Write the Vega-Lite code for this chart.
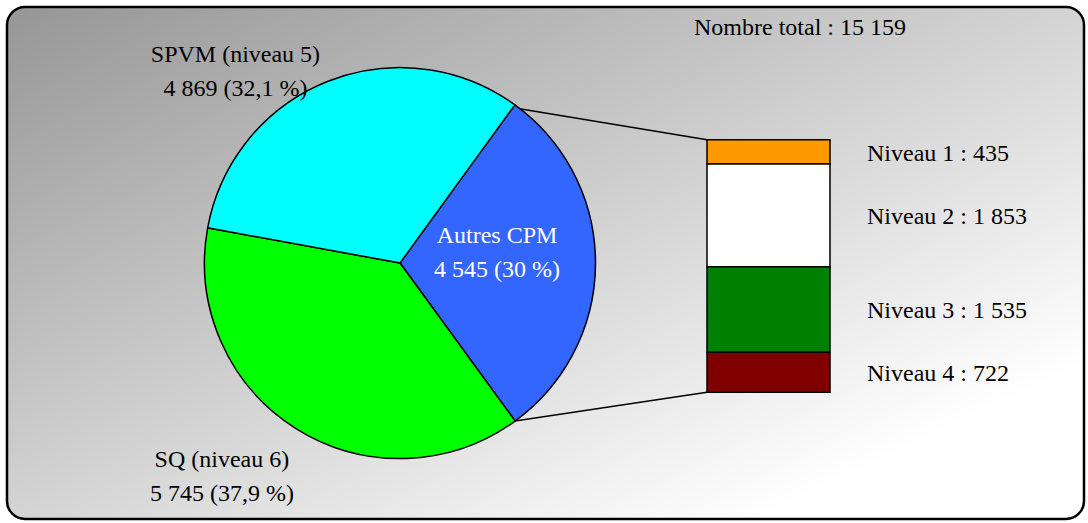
{
  "$schema": "https://vega.github.io/schema/vega-lite/v6.json",
  "width": 1088,
  "height": 523,
  "autosize": {"type": "fit", "contains": "padding"},
  "padding": {"left": 7, "top": 6, "right": 4, "bottom": 4},
  "background": "#ffffff",
  "datasets": {
    "cpm": [
      {"groupe": "Ensemble", "categorie": "Autres CPM", "effectif": 4545, "ordre": 1, "etiquette": "Autres CPM\n4 545 (30 %)"},
      {"groupe": "Ensemble", "categorie": "SQ (niveau 6)", "effectif": 5745, "ordre": 2, "etiquette": "SQ (niveau 6)\n5 745 (37,9 %)"},
      {"groupe": "Ensemble", "categorie": "SPVM (niveau 5)", "effectif": 4869, "ordre": 3, "etiquette": "SPVM (niveau 5)\n4 869 (32,1 %)"}
    ],
    "niveaux": [
      {"groupe": "Autres CPM", "niveau": "Niveau 1", "effectif": 435, "ordre": 1, "etiquette": "Niveau 1 : 435"},
      {"groupe": "Autres CPM", "niveau": "Niveau 2", "effectif": 1853, "ordre": 2, "etiquette": "Niveau 2 : 1 853"},
      {"groupe": "Autres CPM", "niveau": "Niveau 3", "effectif": 1535, "ordre": 3, "etiquette": "Niveau 3 : 1 535"},
      {"groupe": "Autres CPM", "niveau": "Niveau 4", "effectif": 722, "ordre": 4, "etiquette": "Niveau 4 : 722"}
    ],
    "total": [
      {"texte": "Nombre total : 15 159"}
    ]
  },
  "layer": [
    {
      "data": {"name": "niveaux"},
      "transform": [
        {"stack": "effectif", "groupby": ["groupe"], "sort": [{"field": "ordre", "order": "descending"}], "as": ["bas", "haut"]}
      ],
      "mark": {"type": "bar", "stroke": "#000000", "strokeWidth": 1.5},
      "encoding": {
        "x": {
          "field": "groupe",
          "type": "nominal",
          "axis": null,
          "scale": {"domain": ["Ensemble", "Autres CPM"], "paddingInner": 0.66621, "paddingOuter": 0.794435, "align": 0.56618}
        },
        "y": {
          "field": "bas",
          "type": "quantitative",
          "axis": null,
          "scale": {"domain": [-2281.5, 6934.4], "nice": false, "zero": false}
        },
        "y2": {"field": "haut"},
        "color": {
          "field": "niveau",
          "type": "nominal",
          "legend": null,
          "scale": {"domain": ["Niveau 1", "Niveau 2", "Niveau 3", "Niveau 4"], "range": ["#ff9900", "#ffffff", "#008000", "#800000"]}
        }
      }
    },
    {
      "data": {"name": "niveaux"},
      "transform": [
        {"stack": "effectif", "groupby": ["groupe"], "sort": [{"field": "ordre", "order": "descending"}], "as": ["bas", "haut"]},
        {"calculate": "(datum.bas + datum.haut) / 2", "as": "milieu"}
      ],
      "mark": {"type": "text", "align": "left", "baseline": "middle", "dx": 37, "dy": 2, "font": "Liberation Serif", "fontSize": 24, "color": "#000000"},
      "encoding": {
        "x": {"field": "groupe", "type": "nominal", "bandPosition": 1},
        "y": {"field": "milieu", "type": "quantitative"},
        "text": {"field": "etiquette"}
      }
    },
    {
      "data": {"name": "total"},
      "mark": {"type": "text", "align": "center", "baseline": "middle", "dx": 31.5, "font": "Liberation Serif", "fontSize": 24, "color": "#000000"},
      "encoding": {
        "x": {"datum": "Autres CPM", "type": "nominal", "bandPosition": 0.5},
        "y": {"datum": 6557, "type": "quantitative"},
        "text": {"field": "texte"}
      }
    },
    {
      "data": {"name": "total"},
      "mark": {"type": "rule", "color": "#000000", "strokeWidth": 1.5},
      "encoding": {
        "x": {"datum": "Autres CPM", "type": "nominal", "bandPosition": 0},
        "y": {"datum": 4545, "type": "quantitative"},
        "x2": {"value": 508},
        "y2": {"value": 101}
      }
    },
    {
      "data": {"name": "total"},
      "mark": {"type": "rule", "color": "#000000", "strokeWidth": 1.5},
      "encoding": {
        "x": {"datum": "Autres CPM", "type": "nominal", "bandPosition": 0},
        "y": {"datum": 0, "type": "quantitative"},
        "x2": {"value": 508},
        "y2": {"value": 414}
      }
    },
    {
      "data": {"name": "cpm"},
      "mark": {"type": "arc", "radius": 195.5, "stroke": "#000000", "strokeWidth": 1.5},
      "encoding": {
        "x": {"field": "groupe", "type": "nominal", "bandPosition": 0.5},
        "theta": {"field": "effectif", "type": "quantitative", "stack": true, "scale": {"range": [0.6283185, 6.9115038]}},
        "order": {"field": "ordre", "type": "quantitative"},
        "color": {
          "field": "categorie",
          "type": "nominal",
          "legend": null,
          "scale": {"domain": ["Autres CPM", "SQ (niveau 6)", "SPVM (niveau 5)"], "range": ["#3366ff", "#00ff00", "#00ffff"]}
        }
      }
    },
    {
      "data": {"name": "cpm"},
      "mark": {"type": "text", "radius": 97, "dy": -27, "align": "center", "baseline": "middle", "lineBreak": "\n", "lineHeight": 34, "font": "Liberation Serif", "fontSize": 24, "color": "#ffffff"},
      "encoding": {
        "x": {"field": "groupe", "type": "nominal", "bandPosition": 0.5},
        "theta": {"field": "effectif", "type": "quantitative", "stack": true},
        "order": {"field": "ordre", "type": "quantitative"},
        "text": {"field": "etiquette"},
        "opacity": {"condition": {"test": "datum.categorie === 'Autres CPM'", "value": 1}, "value": 0}
      }
    },
    {
      "data": {"name": "cpm"},
      "mark": {"type": "text", "radius": 252, "dx": -44, "dy": -16.5, "align": "center", "baseline": "middle", "lineBreak": "\n", "lineHeight": 34, "font": "Liberation Serif", "fontSize": 24, "color": "#000000"},
      "encoding": {
        "x": {"field": "groupe", "type": "nominal", "bandPosition": 0.5},
        "theta": {"field": "effectif", "type": "quantitative", "stack": true},
        "order": {"field": "ordre", "type": "quantitative"},
        "text": {"field": "etiquette"},
        "opacity": {"condition": {"test": "datum.categorie === 'SQ (niveau 6)'", "value": 1}, "value": 0}
      }
    },
    {
      "data": {"name": "cpm"},
      "mark": {"type": "text", "radius": 206, "dx": -88, "dy": -16.5, "align": "center", "baseline": "middle", "lineBreak": "\n", "lineHeight": 34, "font": "Liberation Serif", "fontSize": 24, "color": "#000000"},
      "encoding": {
        "x": {"field": "groupe", "type": "nominal", "bandPosition": 0.5},
        "theta": {"field": "effectif", "type": "quantitative", "stack": true},
        "order": {"field": "ordre", "type": "quantitative"},
        "text": {"field": "etiquette"},
        "opacity": {"condition": {"test": "datum.categorie === 'SPVM (niveau 5)'", "value": 1}, "value": 0}
      }
    }
  ],
  "resolve": {"scale": {"color": "independent"}},
  "config": {
    "view": {
      "fill": {
        "gradient": "linear",
        "x1": 0, "y1": 0, "x2": 1, "y2": 1,
        "stops": [
          {"offset": 0, "color": "#969696"},
          {"offset": 0.85, "color": "#ffffff"},
          {"offset": 1, "color": "#ffffff"}
        ]
      },
      "stroke": "#000000",
      "strokeWidth": 2.5,
      "cornerRadius": 18
    },
    "font": "Liberation Serif"
  }
}
